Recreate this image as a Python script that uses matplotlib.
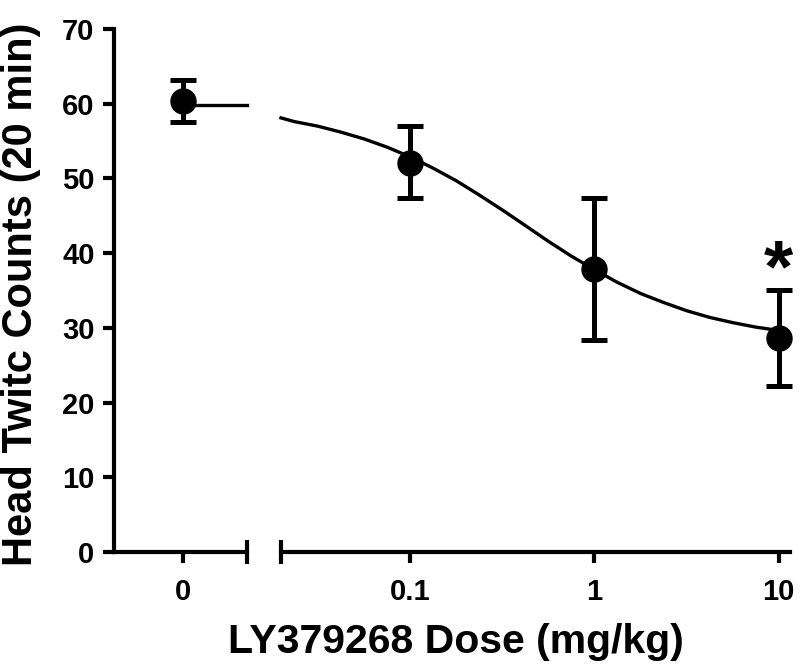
import matplotlib
matplotlib.use("Agg")
import matplotlib.pyplot as plt

plt.rcParams['font.family'] = ['Liberation Sans', 'DejaVu Sans']
plt.rcParams['font.weight'] = 'bold'

# Data
vehicle_mean = [60.3]
vehicle_lo = [57.6]
vehicle_hi = [63.2]
doses = [0.1, 1, 10]
means = [52.1, 37.9, 28.6]
err_lo = [47.4, 28.4, 22.2]
err_hi = [57.0, 47.4, 35.1]
top_line = 59.8
curve_dose = [0.02, 0.0237, 0.0316, 0.0422, 0.0562, 0.075, 0.1, 0.133, 0.178, 0.237,
              0.316, 0.422, 0.562, 0.75, 1, 1.33, 1.78, 2.37, 3.16, 4.22, 5.62, 7.5, 10]
curve_val = [58.1, 57.6, 57.0, 56.2, 55.3, 54.2, 52.9, 51.4, 49.7, 47.8,
             45.8, 43.7, 41.6, 39.6, 37.8, 36.1, 34.6, 33.4, 32.3, 31.4, 30.7, 30.1, 29.65]
yticks = [0, 10, 20, 30, 40, 50, 60, 70]
xticks_right = [0.1, 1, 10]
xtick_labels_right = ['0.1', '1', '10']

W, H = 800, 668
fig = plt.figure(figsize=(8, 6.68), dpi=100)
y0 = (H - 552) / H
yh = (552 - 29) / H
axL = fig.add_axes([114 / W, y0, (247 - 114) / W, yh])
axR = fig.add_axes([281 / W, y0, (790 - 281) / W, yh])

lw_ax = 3.0
for ax in (axL, axR):
    ax.set_ylim(0, 70)
    for s in ('top', 'right'):
        ax.spines[s].set_visible(False)
    ax.spines['bottom'].set_linewidth(lw_ax)
    ax.spines['left'].set_linewidth(lw_ax)
    ax.tick_params(width=lw_ax, length=8, labelsize=21)
    ax.tick_params(axis='x', pad=11)
    ax.tick_params(axis='y', pad=6)
    ax.patch.set_alpha(0)

axR.spines['left'].set_visible(False)
axR.set_yticks([])

# left segment
axL.set_xlim(-1.08, 1.0)
axL.set_yticks(yticks)
axL.set_xticks([0])
axL.set_xticklabels(['0'])
for lab in axL.get_xticklabels() + axL.get_yticklabels():
    lab.set_fontweight('bold')

ms = 18
elw = 3.6
cap = 9.5
axL.errorbar([0], vehicle_mean,
             yerr=[[vehicle_mean[0] - vehicle_lo[0]], [vehicle_hi[0] - vehicle_mean[0]]],
             fmt='o', color='black', ms=ms, elinewidth=elw, capsize=cap, capthick=elw,
             clip_on=False, zorder=5)
axL.plot([0, 1.0], [top_line, top_line], color='black', lw=2.4, clip_on=False)
# break caps
axL.plot([1.0, 1.0], [-1.6, 1.6], color='black', lw=lw_ax, clip_on=False, solid_capstyle='butt')

# right segment
axR.set_xscale('log')
axR.set_xlim(0.02, 11.5)
axR.set_xticks(xticks_right)
axR.set_xticklabels(xtick_labels_right)
axR.minorticks_off()
axR.tick_params(axis='x', which='minor', length=0)
for lab in axR.get_xticklabels():
    lab.set_fontweight('bold')
axR.plot([0.02, 0.02], [-1.6, 1.6], color='black', lw=lw_ax, clip_on=False, solid_capstyle='butt')

axR.plot(curve_dose, curve_val, color='black', lw=2.4, clip_on=False)
lo = [m - l for m, l in zip(means, err_lo)]
hi = [h - m for m, h in zip(means, err_hi)]
axR.errorbar(doses, means, yerr=[lo, hi], fmt='o', color='black', ms=ms,
             elinewidth=elw, capsize=cap, capthick=elw, clip_on=False, zorder=5)
axR.text(10, 37.5, '*', ha='center', va='center', fontsize=54, fontweight='bold')

fig.text(456 / W, (H - 653) / H, 'LY379268 Dose (mg/kg)', ha='center', va='baseline',
         fontsize=29.5, fontweight='bold')
fig.text(32 / W, 1 - 294 / H, 'Head Twitc Counts (20 min)', ha='center', va='baseline',
         rotation=90, rotation_mode='anchor', fontsize=30, fontweight='bold')

fig.savefig('out.png', dpi=100)
